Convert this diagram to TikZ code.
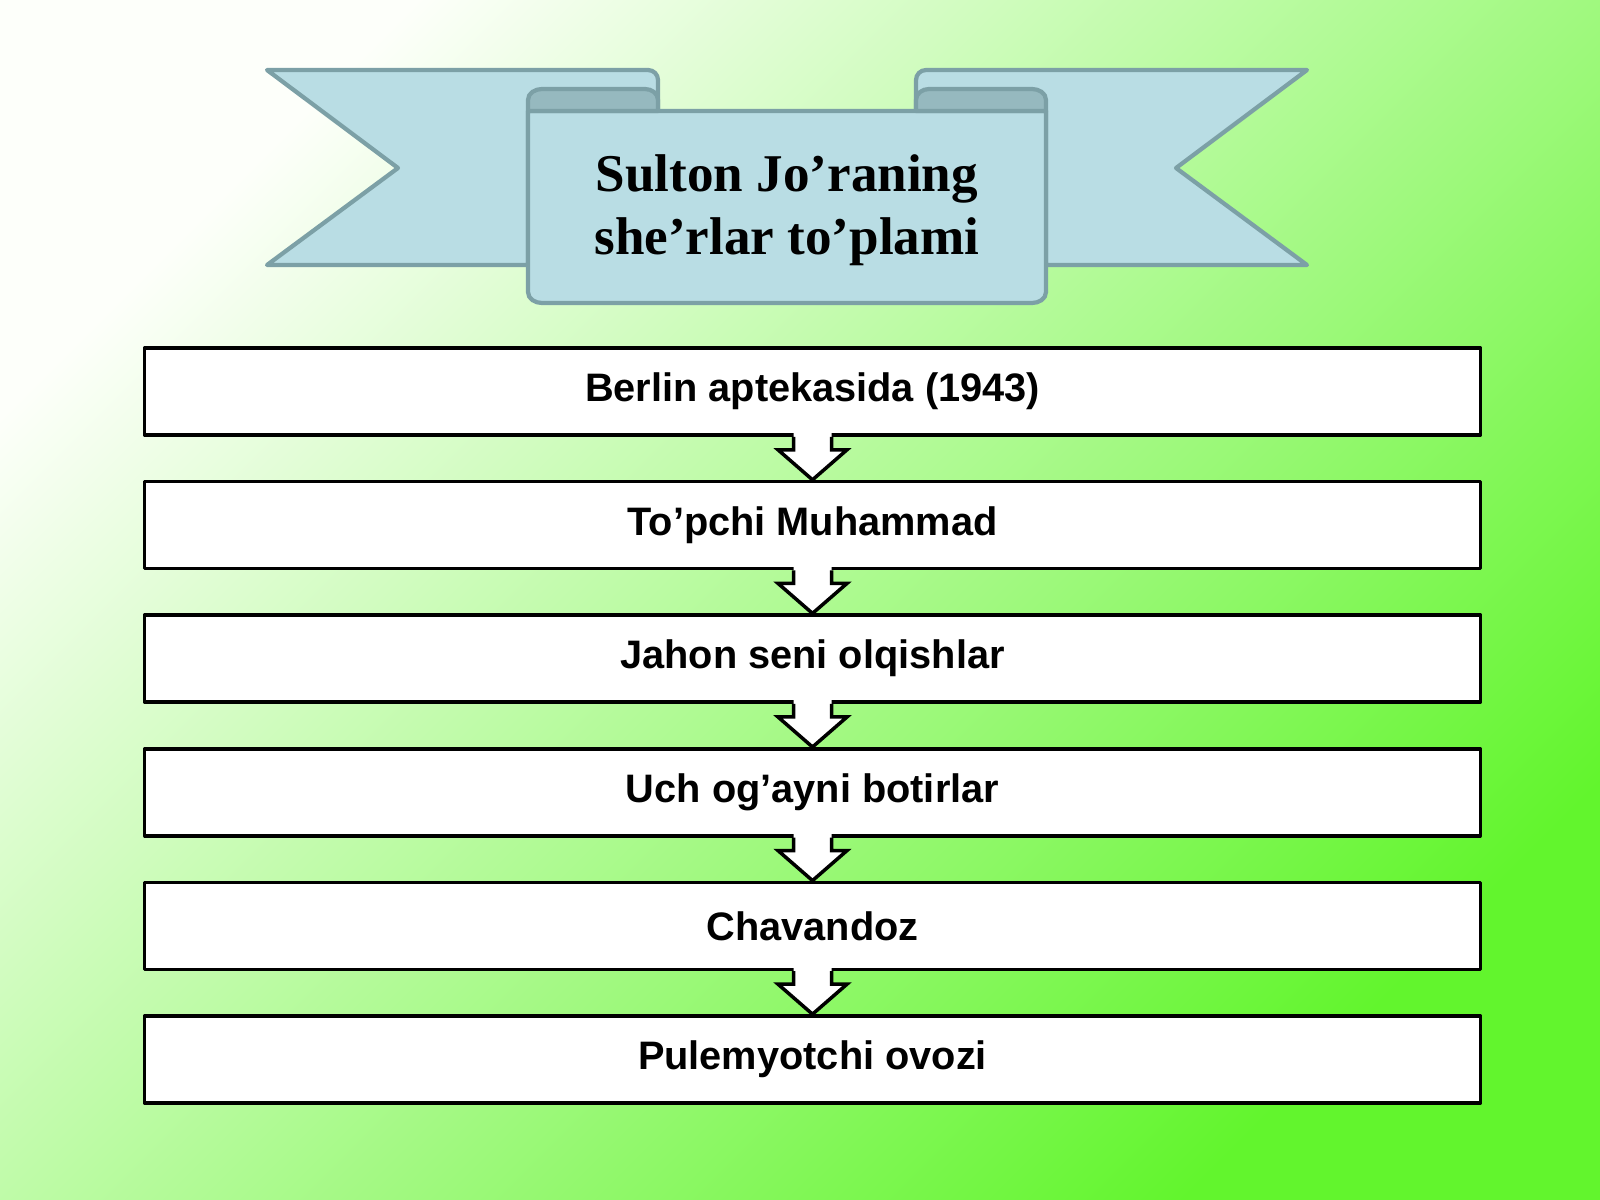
\documentclass[tikz,border=0pt]{standalone}
\usepackage{fontspec}
\setmainfont{Liberation Serif}
\setsansfont{Liberation Sans}
\usepackage{xcolor}
\usepackage{tikz}
\usetikzlibrary{positioning,calc}

\definecolor{ribbonblue}{RGB}{185,221,228}
\definecolor{ribbonline}{RGB}{124,160,166}
\definecolor{ribbondark}{RGB}{150,185,191}
\definecolor{bgwhite}{RGB}{253,255,250}
\definecolor{bgmid}{RGB}{196,250,166}
\definecolor{bggreen}{RGB}{98,245,45}

\begin{document}
\begin{tikzpicture}[x=0.01cm, y=-0.01cm, line join=round,
    ribbon/.style={fill=ribbonblue, draw=ribbonline, line width=1.2pt},
    roll/.style={fill=ribbondark, draw=ribbonline, line width=1.2pt},
    box/.style={draw=black, fill=white, line width=1pt, minimum width=13.35cm,
        minimum height=0.87cm, inner sep=0pt,
        font=\sffamily\bfseries\fontsize{11.3}{13.6}\selectfont},
    downarrow/.style={draw=black, line width=1pt, line join=miter}]
        % Background
        \shade[left color=bgwhite, middle color=bgmid, right color=bggreen, shading angle=45]
            (0,0) rectangle (1600,1200);
        \useasboundingbox (0,0) rectangle (1600,1200);

        % Ribbon ends behind the banner
        \draw[ribbon] (267,70) -- (648,70) to[out=0,in=90] (658,80) -- (658,111)
            -- (528,111) -- (528,265) -- (267,265) -- (398,168) -- cycle;
        \draw[ribbon] (1307,70) -- (926,70) to[out=180,in=90] (916,80) -- (916,111)
            -- (1046,111) -- (1046,265) -- (1307,265) -- (1176,168) -- cycle;

        % Banner front
        \draw[ribbon] (528,111) -- (528,292) to[out=-90,in=180] (542,303) -- (1032,303)
            to[out=0,in=-90] (1046,292) -- (1046,111) -- cycle;
        \draw[roll] (528,111) -- (528,100) to[out=90,in=180] (542,89) -- (645,89)
            to[out=0,in=90] (658,100) -- (658,111) -- cycle;
        \draw[roll] (916,111) -- (916,100) to[out=90,in=180] (929,89) -- (1032,89)
            to[out=0,in=90] (1046,100) -- (1046,111) -- cycle;
        \node[font=\bfseries\fontsize{15.1}{17.9}\selectfont, align=center] (title)
            at (787,210) {Sulton Jo’raning\\she’rlar to’plami};

        % Boxes
        \node[box] (b1) at (812.5,391.5) {Berlin aptekasida (1943)};
        \node[box, below=0.43cm of b1] (b2) {To’pchi Muhammad};
        \node[box, below=0.43cm of b2] (b3) {Jahon seni olqishlar};
        \node[box, below=0.43cm of b3] (b4) {Uch og’ayni botirlar};
        \node[box, below=0.43cm of b4] (b5) {Chavandoz};
        \node[box, below=0.43cm of b5] (b6) {Pulemyotchi ovozi};

        % Arrows between boxes
        \foreach \a/\b in {b1/b2,b2/b3,b3/b4,b4/b5,b5/b6} {
            \fill[white] ($(\a.south)+(-19,-4)$) -- ($(\a.south)+(-19,13)$)
                -- ($(\a.south)+(-34.5,13)$) -- (\b.north) -- ($(\a.south)+(34.5,13)$)
                -- ($(\a.south)+(19,13)$) -- ($(\a.south)+(19,-4)$) -- cycle;
            \draw[downarrow] ($(\a.south)+(-19,0)$) -- ($(\a.south)+(-19,13)$)
                -- ($(\a.south)+(-34.5,13)$) -- (\b.north) -- ($(\a.south)+(34.5,13)$)
                -- ($(\a.south)+(19,13)$) -- ($(\a.south)+(19,0)$);
        }
    \end{tikzpicture}
\end{document}
